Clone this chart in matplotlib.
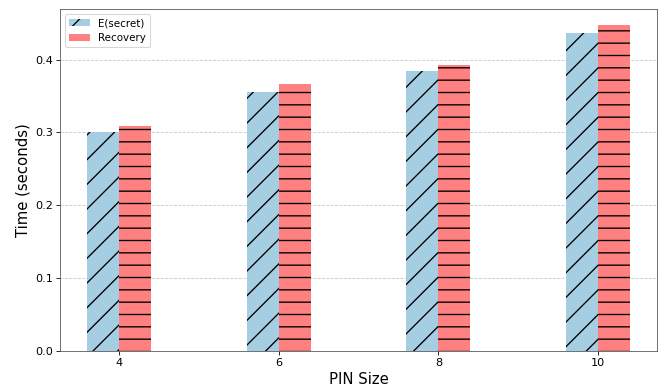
import numpy as np
import matplotlib
matplotlib.use('Agg')
import matplotlib.pyplot as plt

pin_sizes = ['4', '6', '8', '10']
secret_times = [0.300, 0.356, 0.384, 0.436]
recovery_times = [0.309, 0.366, 0.393, 0.447]

DPI = 74
plt.rcParams['hatch.linewidth'] = 1.3

fig, ax = plt.subplots(figsize=(664 / DPI, 390 / DPI), dpi=DPI)
fig.subplots_adjust(left=0.0904, right=0.9895, top=0.977, bottom=0.1)

x = np.arange(len(pin_sizes))
width = 0.2

ax.bar(x - width / 2, secret_times, width, color='#a6cee3', hatch='/', label='E(secret)')
ax.bar(x + width / 2, recovery_times, width, color='#ff8080', hatch='-', label='Recovery')

ax.set_xticks(x)
ax.set_xticklabels(pin_sizes)
ax.set_yticks([0.0, 0.1, 0.2, 0.3, 0.4])
ax.tick_params(axis='both', labelsize=11)

ax.set_xlabel('PIN Size', fontsize=14.5)
ax.set_ylabel('Time (seconds)', fontsize=14.5)

ax.grid(axis='y', linestyle='--', alpha=0.7)
ax.set_axisbelow(True)
ax.legend(loc='upper left', fontsize=10)

for spine in ax.spines.values():
    spine.set_color('#555555')

plt.savefig('out.png', dpi=DPI)
